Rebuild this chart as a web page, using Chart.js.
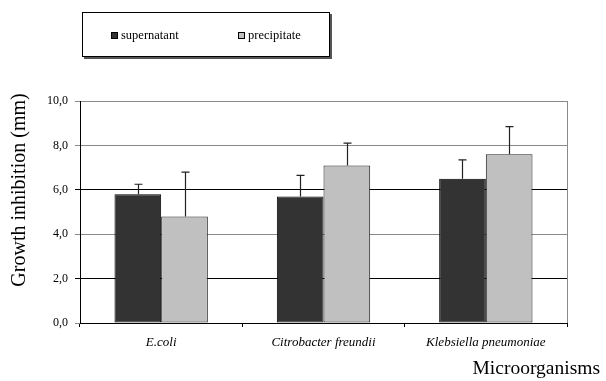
<!DOCTYPE html>
<html>
<head>
<meta charset="utf-8">
<script src="https://cdn.jsdelivr.net/npm/chart.js@4.4.1/dist/chart.umd.min.js"></script>
<style>
  html, body { margin:0; padding:0; background:#fff; }
  #wrap { width:606px; height:381px; }
</style>
</head>
<body>
<div id="wrap"><canvas id="chart" width="606" height="381"></canvas></div>
<script>
// values
const CATEGORIES = ['E.coli', 'Citrobacter freundii', 'Klebsiella pneumoniae'];
const SUPERNATANT = [5.8, 5.7, 6.5];
const SUPERNATANT_ERR = [0.45, 0.95, 0.85];
const PRECIPITATE = [4.8, 7.1, 7.6];
const PRECIPITATE_ERR = [2.0, 1.0, 1.25];
const Y_TICKS = [0, 2, 4, 6, 8, 10];

const SERIF = '"Liberation Serif", "Times New Roman", serif';

function fmt(v){ return v.toFixed(1).replace('.', ',') }

// upward-only error bars with a small cap
const errorBars = {
  id: 'errorBars',
  afterDatasetsDraw(chart){
    const ctx = chart.ctx, y = chart.scales.y;
    chart.data.datasets.forEach((ds, i)=>{
      const meta = chart.getDatasetMeta(i);
      meta.data.forEach((bar, j)=>{
        const top = y.getPixelForValue(ds.data[j] + ds.errors[j]);
        const x = Math.round(bar.x) + 0.5;
        ctx.save();
        ctx.strokeStyle = '#222';
        ctx.lineWidth = 1.2;
        ctx.beginPath();
        ctx.moveTo(x, bar.y);
        ctx.lineTo(x, top);
        ctx.moveTo(x - 4, top);
        ctx.lineTo(x + 4, top);
        ctx.stroke();
        ctx.restore();
      });
    });
  }
};

// boxed legend, axis titles, right border of the plot
const decorations = {
  id: 'decorations',
  afterDraw(chart){
    const ctx = chart.ctx, area = chart.chartArea;
    ctx.save();
    // right frame line
    ctx.strokeStyle = '#8a8a8a';
    ctx.lineWidth = 1;
    ctx.beginPath();
    ctx.moveTo(Math.round(area.right) + 0.5, area.top);
    ctx.lineTo(Math.round(area.right) + 0.5, area.bottom);
    ctx.stroke();

    // legend box with a thin shadow
    ctx.fillStyle = '#555';
    ctx.fillRect(84, 14, 248, 45);
    ctx.fillStyle = '#fff';
    ctx.fillRect(82, 12, 248, 45);
    ctx.strokeStyle = '#000';
    ctx.strokeRect(82.5, 12.5, 247, 44);

    const items = [{x:111, label:'supernatant'}, {x:238, label:'precipitate'}];
    ctx.font = '12.5px ' + SERIF;
    ctx.textBaseline = 'middle';
    items.forEach((it, i)=>{
      const ds = chart.data.datasets[i];
      ctx.fillStyle = ds.backgroundColor;
      ctx.fillRect(it.x, 32, 7, 7);
      ctx.strokeStyle = '#000';
      ctx.strokeRect(it.x + 0.5, 32.5, 6, 6);
      ctx.fillStyle = '#000';
      ctx.fillText(it.label, it.x + 10, 36);
    });

    // axis titles
    ctx.fillStyle = '#000';
    ctx.font = '19.5px ' + SERIF;
    ctx.textAlign = 'right';
    ctx.textBaseline = 'alphabetic';
    ctx.fillText('Microorganisms', 600, 374);

    ctx.font = '20px ' + SERIF;
    ctx.translate(25, 190);
    ctx.rotate(-Math.PI / 2);
    ctx.textAlign = 'center';
    ctx.fillText('Growth inhibition (mm)', 0, 0);
    ctx.restore();
  }
};

new Chart(document.getElementById('chart').getContext('2d'), {
  type: 'bar',
  data: {
    labels: CATEGORIES,
    datasets: [
      {
        label: 'supernatant',
        data: SUPERNATANT,
        errors: SUPERNATANT_ERR,
        backgroundColor: '#333333',
        borderColor: '#000',
        borderWidth: 1,
        borderSkipped: false,
        categoryPercentage: 0.575,
        barPercentage: 1
      },
      {
        label: 'precipitate',
        data: PRECIPITATE,
        errors: PRECIPITATE_ERR,
        backgroundColor: '#c0c0c0',
        borderColor: '#222',
        borderWidth: 1,
        borderSkipped: false,
        categoryPercentage: 0.575,
        barPercentage: 1
      }
    ]
  },
  options: {
    responsive: false,
    animation: false,
    layout: { padding: { left: 0, top: 101, right: 39, bottom: 0 } },
    plugins: { legend: { display: false }, tooltip: { enabled: false } },
    scales: {
      x: {
        afterFit(s){ s.height = 58 },
        grid: { offset: true, drawOnChartArea: false, drawTicks: true, tickLength: 4, color: '#000' },
        border: { color: '#000', width: 1 },
        ticks: {
          color: '#000',
          padding: 8,
          maxRotation: 0,
          font: { family: SERIF, size: 13, style: 'italic' }
        }
      },
      y: {
        min: 0,
        max: 10,
        afterFit(s){ s.width = 80 },
        afterBuildTicks(s){ s.ticks = Y_TICKS.map(v=>({value:v})) },
        grid: {
          tickLength: 5,
          color: c => (c.index === 1 || c.index === 3 ? '#000' : '#8a8a8a')
        },
        border: { color: '#000', width: 1 },
        ticks: {
          color: '#000',
          padding: 7,
          font: { family: SERIF, size: 12 },
          callback: v => fmt(v)
        }
      }
    }
  },
  plugins: [errorBars, decorations]
});
</script>
</body>
</html>
